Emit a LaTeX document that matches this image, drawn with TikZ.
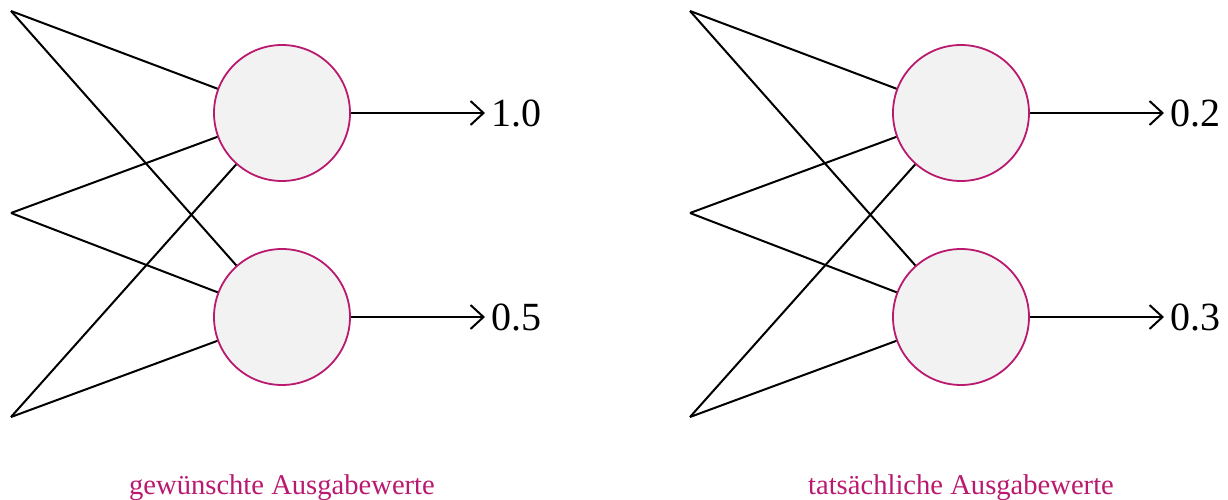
\documentclass[tikz,border=0pt]{standalone}
\usepackage{fontspec}
\setmainfont{Liberation Serif}
\usetikzlibrary{arrows.meta}
\definecolor{netmagenta}{RGB}{185,25,110}
\definecolor{cellgray}{RGB}{242,242,242}
\tikzset{
  neuron/.style={circle,draw=netmagenta,fill=cellgray,line width=0.9pt,minimum size=68pt,inner sep=0pt},
  wire/.style={line width=1pt},
  outwire/.style={line width=1pt,-{Straight Barb[length=6.5pt,width=12pt]}},
  outval/.style={anchor=west,inner sep=3pt,font=\fontsize{20}{24}\selectfont},
  caption/.style={anchor=base,text=netmagenta,font=\fontsize{14.3}{17}\selectfont}
}
\begin{document}
\begin{tikzpicture}[x=0.5pt,y=-0.5pt]
  \useasboundingbox (0,0) rectangle (1228,499);
  \begin{scope}
    \coordinate (a1) at (11,11);
    \coordinate (a2) at (11,213);
    \coordinate (a3) at (11,417);
    \node[neuron] (na) at (282,113) {};
    \node[neuron] (nb) at (282,317) {};
    \foreach \i in {1,2,3} {
      \draw[wire] (a\i) -- (na);
      \draw[wire] (a\i) -- (nb);
    }
    \coordinate (oa) at (485,113);
    \coordinate (ob) at (485,317);
    \draw[outwire] (na) -- (oa);
    \draw[outwire] (nb) -- (ob);
    \node[outval] (va) at (oa) {1.0};
    \node[outval] (vb) at (ob) {0.5};
    \node[caption] (capa) at (282,494) {gewünschte Ausgabewerte};
  \end{scope}
  \begin{scope}[xshift=339.5pt]
    \coordinate (b1) at (11,11);
    \coordinate (b2) at (11,213);
    \coordinate (b3) at (11,417);
    \node[neuron] (nc) at (282,113) {};
    \node[neuron] (nd) at (282,317) {};
    \foreach \i in {1,2,3} {
      \draw[wire] (b\i) -- (nc);
      \draw[wire] (b\i) -- (nd);
    }
    \coordinate (oc) at (485,113);
    \coordinate (od) at (485,317);
    \draw[outwire] (nc) -- (oc);
    \draw[outwire] (nd) -- (od);
    \node[outval] (vc) at (oc) {0.2};
    \node[outval] (vd) at (od) {0.3};
    \node[caption] (capb) at (282,494) {tatsächliche Ausgabewerte};
  \end{scope}
\end{tikzpicture}
\end{document}
